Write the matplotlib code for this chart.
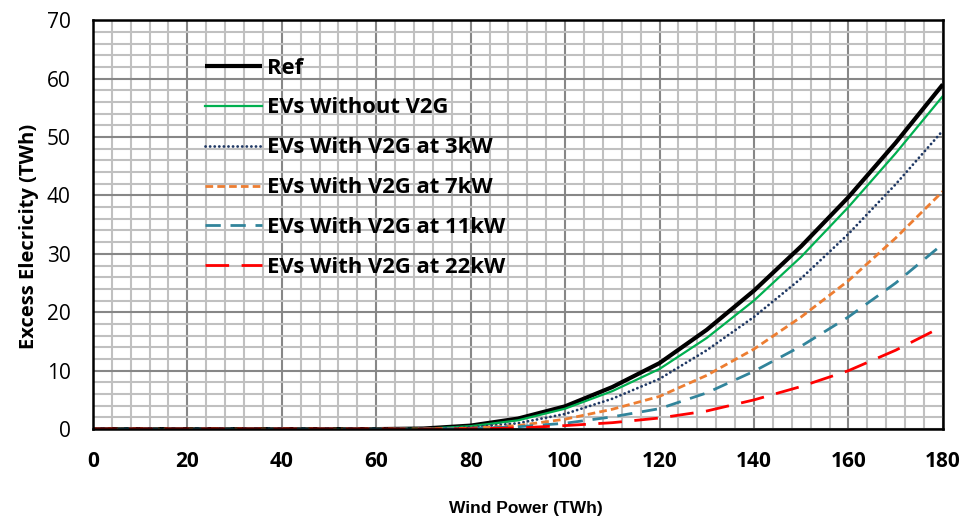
import matplotlib
matplotlib.use("Agg")
import matplotlib.pyplot as plt
from matplotlib.ticker import MultipleLocator

plt.rcParams['font.family'] = ['Open Sans', 'DejaVu Sans']
plt.rcParams['lines.scale_dashes'] = False

wind = [0, 10, 20, 30, 40, 50, 60, 70, 80, 90, 100, 110, 120, 130, 140, 150, 160, 170, 180]
ref = [0, 0, 0, 0, 0, 0, 0, 0.1, 0.6, 1.8, 3.9, 7.2, 11.3, 17.0, 23.7, 31.3, 39.7, 49.0, 59.0]
no_v2g = [0, 0, 0, 0, 0, 0, 0, 0.05, 0.5, 1.5, 3.5, 6.5, 10.3, 15.6, 22.0, 29.5, 38.0, 47.2, 57.0]
v2g_3 = [0, 0, 0, 0, 0, 0, 0, 0.03, 0.3, 1.0, 2.6, 5.2, 8.6, 13.5, 19.2, 25.8, 33.4, 41.9, 51.1]
v2g_7 = [0, 0, 0, 0, 0, 0, 0, 0.02, 0.15, 0.6, 1.7, 3.4, 5.6, 9.2, 13.7, 19.2, 25.4, 32.7, 40.7]
v2g_11 = [0, 0, 0, 0, 0, 0, 0, 0.01, 0.1, 0.4, 1.0, 2.1, 3.5, 6.2, 9.9, 14.2, 19.2, 25.0, 31.7]
v2g_22 = [0, 0, 0, 0, 0, 0, 0, 0.0, 0.05, 0.2, 0.6, 1.1, 1.9, 3.1, 5.0, 7.3, 10.0, 13.5, 17.6]

labels = ["Ref", "EVs Without V2G", "EVs With V2G at 3kW", "EVs With V2G at 7kW",
          "EVs With V2G at 11kW", "EVs With V2G at 22kW"]

fig = plt.figure(figsize=(9.68, 5.17), dpi=100)
ax = fig.add_axes([0.096, 0.170, 0.878, 0.791])

ax.plot(wind, ref, color='black', lw=3.0, label=labels[0], solid_capstyle='butt')
ax.plot(wind, no_v2g, color='#00b050', lw=1.6, label=labels[1])
ax.plot(wind, v2g_3, color='#1f3864', lw=2.0, linestyle=(0, (0.1, 3.2)),
        dash_capstyle='round', label=labels[2])
ax.plot(wind, v2g_7, color='#ed7d31', lw=2.0, linestyle=(0, (5.5, 3.0)), label=labels[3])
ax.plot(wind, v2g_11, color='#31849b', lw=2.0, linestyle=(0, (11, 7)), label=labels[4])
ax.plot(wind, v2g_22, color='#ff0000', lw=2.0, linestyle=(0, (17, 9)), label=labels[5])

ax.set_xlim(0, 180)
ax.set_ylim(0, 70)
ax.xaxis.set_major_locator(MultipleLocator(20))
ax.xaxis.set_minor_locator(MultipleLocator(4))
ax.yaxis.set_major_locator(MultipleLocator(10))
ax.yaxis.set_minor_locator(MultipleLocator(2))
ax.grid(which='minor', color='#c0c0c0', lw=1.5)
ax.grid(which='major', color='#878787', lw=1.5)
ax.set_axisbelow(True)
ax.tick_params(which='both', length=0)
ax.tick_params(axis='y', labelsize=15, pad=16)
ax.tick_params(axis='x', labelsize=15, pad=16)
for t in ax.get_xticklabels():
    t.set_fontweight('bold')
for s in ax.spines.values():
    s.set_linewidth(1.8)
    s.set_color('black')

ax.set_xlabel("Wind Power (TWh)", fontsize=12.5, fontweight='bold',
              family=['Liberation Sans', 'DejaVu Sans'], va='center')
ax.xaxis.set_label_coords(0.509, -0.193)
ax.set_ylabel("Excess Elecricity (TWh)", fontsize=14.5, fontweight='bold', va='center')
ax.yaxis.set_label_coords(-0.075, 0.471)

leg = ax.legend(loc='upper left', bbox_to_anchor=(0.121, 0.93), frameon=False,
                prop={'size': 15.8, 'weight': 'bold'}, handlelength=2.6,
                handletextpad=0.23, labelspacing=0.86, borderaxespad=0)

fig.savefig("out.png", dpi=100)
